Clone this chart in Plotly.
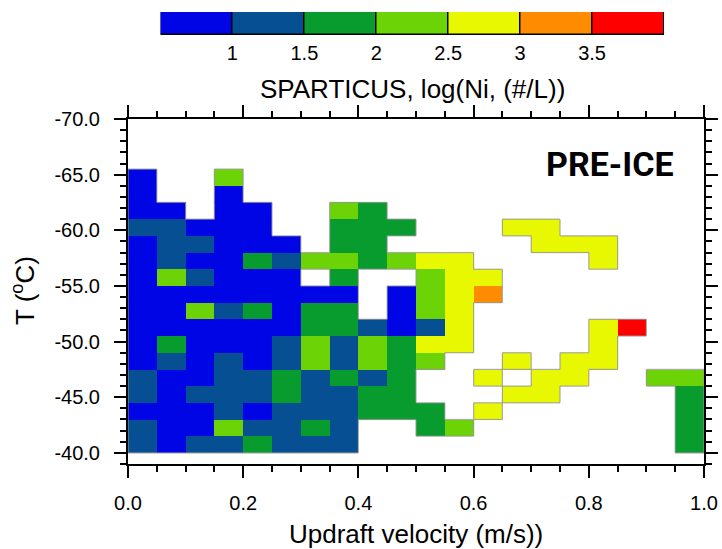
import plotly.graph_objects as go

# Updraft velocity bin centres (m/s) and temperature bin centres (deg C)
vel_centers = [0.025, 0.075, 0.125, 0.175, 0.225, 0.275, 0.325, 0.375, 0.425, 0.475,
               0.525, 0.575, 0.625, 0.675, 0.725, 0.775, 0.825, 0.875, 0.925, 0.975]
temp_centers = [-40.75, -42.25, -43.75, -45.25, -46.75, -48.25, -49.75, -51.25, -52.75,
                -54.25, -55.75, -57.25, -58.75, -60.25, -61.75, -63.25, -64.75]

# log(Ni) class of each cell, one string per temperature row (bottom row first)
# B: <1, D: 1-1.5, G: 1.5-2, L: 2-2.5, Y: 2.5-3, O: 3-3.5, R: >3.5, '.': no data
rows = [
    "DBDDGDDD...........G",
    "DBBLDDGD..GL.......G",
    "BBBDBDDDGGG.Y......G",
    "DBDDDGDDGG...YY....G",
    "DBBDDGDGDG..Y.YY..LL",
    "BDBDBDLDLGL..Y.YY...",
    "BGBBBDLDLGYY....Y...",
    "BBBBBBGGDBDY....YR..",
    "BBLDGBGG.BLY........",
    "BBBBBBBB.BLYO.......",
    "BLDBBB.G..LYY.......",
    "BDBBGDLLGLYY....Y...",
    "BDDBBB.GG.....YYY...",
    "DDBBB..GGG...YY.....",
    "BB.BB..LG...........",
    "B..B................",
    "B..L................",
]
class_value = {"B": 0.75, "D": 1.25, "G": 1.75, "L": 2.25, "Y": 2.75, "O": 3.25, "R": 3.75}

level_edges = [0.5, 1.0, 1.5, 2.0, 2.5, 3.0, 3.5, 4.0]
level_centers = [0.75, 1.25, 1.75, 2.25, 2.75, 3.25, 3.75]
level_colors = ["#0005E6", "#064F92", "#089C2E", "#6CD306", "#E8F800", "#FF8C00", "#FF0000"]
cbar_ticks = [1.0, 1.5, 2.0, 2.5, 3.0, 3.5]
cbar_ticktext = ["1", "1.5", "2", "2.5", "3", "3.5"]

y_ticks = [-70, -65, -60, -55, -50, -45, -40]
y_ticktext = ["-70.0", "-65.0", "-60.0", "-55.0", "-50.0", "-45.0", "-40.0"]
x_ticks = [0.0, 0.2, 0.4, 0.6, 0.8, 1.0]
x_ticktext = ["0.0", "0.2", "0.4", "0.6", "0.8", "1.0"]

z = [[class_value.get(ch) for ch in row] for row in rows]

# discrete colour scale
n = len(level_colors)
cs = []
for i, col in enumerate(level_colors):
    cs.append([i / n, col])
    cs.append([(i + 1) / n, col])

# thin grey outline where a filled cell meets an empty one (derived from the grid)
hx, hy = 0.025, 0.75
ox, oy = [], []
nr, nc = len(rows), len(rows[0])


def filled(r, c):
    return 0 <= r < nr and 0 <= c < nc and rows[r][c] != "."


for r in range(nr):
    for c in range(nc):
        if not filled(r, c):
            continue
        xc, yc = vel_centers[c], temp_centers[r]
        x0, x1 = xc - hx, xc + hx
        y0, y1 = yc + hy, yc - hy  # y0 warmer (bottom), y1 colder (top)
        if not filled(r - 1, c):
            ox += [x0, x1, None]; oy += [y0, y0, None]
        if not filled(r + 1, c):
            ox += [x0, x1, None]; oy += [y1, y1, None]
        if not filled(r, c - 1):
            ox += [x0, x0, None]; oy += [y0, y1, None]
        if not filled(r, c + 1):
            ox += [x1, x1, None]; oy += [y0, y1, None]

FONT = "Liberation Sans, Arial, Helvetica, sans-serif"

# layout geometry (pixels)
W, H = 722, 549
ML, MR, MT, MB = 128, 18, 10, 85
PW = W - ML - MR
PH = H - MT - MB
main_top_px = 119
cb_top_px, cb_bot_px = 12, 35
cb_left_px, cb_right_px = 160.5, 664


def py(px):
    return (H - MB - px) / PH


def pxx(px):
    return (px - ML) / PW


fig = go.Figure()
fig.add_trace(go.Heatmap(
    x=vel_centers, y=temp_centers, z=z,
    zmin=level_edges[0], zmax=level_edges[-1],
    colorscale=cs, showscale=False, hoverongaps=False,
))
fig.add_trace(go.Scatter(
    x=ox, y=oy, mode="lines", line=dict(color="rgba(150,150,150,0.8)", width=1.2),
    hoverinfo="skip", cliponaxis=True,
))

# label bar drawn as boxes on its own axes
fig.add_trace(go.Bar(
    x=level_centers, y=[1] * len(level_centers), width=0.5,
    marker=dict(color=level_colors, line=dict(color="black", width=1.5)),
    xaxis="x2", yaxis="y2", hoverinfo="skip",
))

axis_common = dict(
    showline=True, linewidth=2, linecolor="black", mirror="ticks",
    ticks="outside", ticklen=12, tickwidth=2, tickcolor="black",
    showgrid=False, zeroline=False,
    tickfont=dict(family=FONT, size=20, color="black"),
)

fig.update_layout(
    xaxis=dict(range=[0, 1], tickvals=x_ticks, ticktext=x_ticktext,
               minor=dict(dtick=0.05, tick0=0, ticks="outside", ticklen=6,
                          tickwidth=1.5, tickcolor="black", showgrid=False),
               ticklabelstandoff=8, domain=[0, 1], **axis_common),
    yaxis=dict(range=[-39, -70], tickvals=y_ticks, ticktext=y_ticktext,
               minor=dict(dtick=1, tick0=-40, ticks="outside", ticklen=6,
                          tickwidth=1.5, tickcolor="black", showgrid=False),
               ticklabelstandoff=10, domain=[0, py(main_top_px)], **axis_common),
    xaxis2=dict(range=[level_edges[0], level_edges[-1]], anchor="y2",
                domain=[pxx(cb_left_px), pxx(cb_right_px)],
                tickvals=cbar_ticks, ticktext=cbar_ticktext, ticks="",
                showline=False, showgrid=False, zeroline=False,
                ticklabelstandoff=4,
                tickfont=dict(family=FONT, size=20, color="black")),
    yaxis2=dict(range=[0, 1], anchor="x2", domain=[py(cb_bot_px), py(cb_top_px)],
                showticklabels=False, ticks="", showline=False, showgrid=False,
                zeroline=False),
    bargap=0,
)

fig.add_annotation(text="SPARTICUS, log(Ni, (#/L))", xref="paper", yref="paper",
                   x=pxx(412), y=py(89), xanchor="center", yanchor="middle",
                   showarrow=False, font=dict(family=FONT, size=26, color="black"))
fig.add_annotation(text="Updraft velocity (m/s))", xref="paper", yref="paper",
                   x=pxx(416), y=py(534), xanchor="center", yanchor="middle",
                   showarrow=False, font=dict(family=FONT, size=26, color="black"))
fig.add_annotation(text="T (<sup>o</sup>C)", xref="paper", yref="paper",
                   x=pxx(23), y=py(291), xanchor="center", yanchor="middle",
                   textangle=-90, showarrow=False,
                   font=dict(family=FONT, size=26, color="black"))
fig.add_annotation(text="<b>PRE-ICE</b>", xref="paper", yref="paper",
                   x=pxx(610), y=py(164), xanchor="center", yanchor="middle",
                   showarrow=False,
                   font=dict(family="Roboto, Liberation Sans, Arial", size=34, color="black"))

fig.update_layout(
    width=W, height=H,
    margin=dict(l=ML, r=MR, t=MT, b=MB, autoexpand=False),
    plot_bgcolor="white", paper_bgcolor="white",
    showlegend=False,
)

fig.write_html("out.html", config={"displayModeBar": False},
               post_script="document.body.style.margin='0';document.body.style.overflow='hidden';")
